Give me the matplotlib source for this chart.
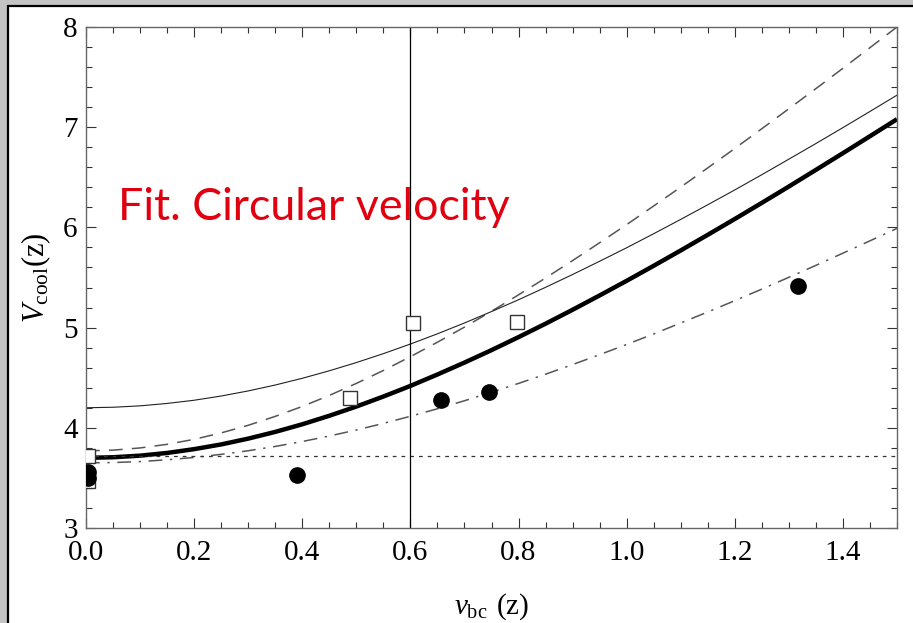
import matplotlib
matplotlib.use("Agg")
import matplotlib.pyplot as plt
from matplotlib.patches import Rectangle
from matplotlib.ticker import MultipleLocator

# ---- data ----
x_curve = [0.00, 0.05, 0.10, 0.15, 0.20, 0.25, 0.30, 0.35, 0.40, 0.45, 0.50,
           0.55, 0.60, 0.65, 0.70, 0.75, 0.80, 0.85, 0.90, 0.95, 1.00,
           1.05, 1.10, 1.15, 1.20, 1.25, 1.30, 1.35, 1.40, 1.45, 1.50]
thick_fit = [3.700, 3.706, 3.722, 3.749, 3.787, 3.834, 3.892, 3.959, 4.035, 4.120, 4.212,
             4.312, 4.418, 4.532, 4.651, 4.775, 4.905, 5.039, 5.178, 5.321, 5.467,
             5.617, 5.770, 5.926, 6.084, 6.245, 6.408, 6.574, 6.741, 6.910, 7.080]
thin_fit = [4.200, 4.205, 4.219, 4.243, 4.275, 4.317, 4.368, 4.427, 4.494, 4.569, 4.651,
            4.740, 4.836, 4.938, 5.046, 5.160, 5.278, 5.402, 5.530, 5.662, 5.797,
            5.937, 6.080, 6.226, 6.374, 6.526, 6.681, 6.837, 6.996, 7.157, 7.320]
dashed_fit = [3.770, 3.777, 3.799, 3.835, 3.885, 3.949, 4.025, 4.114, 4.213, 4.323, 4.443,
              4.572, 4.710, 4.854, 5.005, 5.163, 5.327, 5.495, 5.669, 5.847, 6.028,
              6.214, 6.402, 6.594, 6.788, 6.985, 7.184, 7.385, 7.588, 7.794, 8.000]
dashdot_fit = [3.650, 3.653, 3.663, 3.681, 3.704, 3.735, 3.771, 3.814, 3.863, 3.918, 3.978,
               4.044, 4.115, 4.190, 4.270, 4.355, 4.443, 4.535, 4.631, 4.730, 4.832,
               4.937, 5.046, 5.156, 5.269, 5.384, 5.502, 5.621, 5.743, 5.866, 5.990]
dotted_level = 3.72
vline_x = 0.6

circles_x = [0.003, 0.003, 0.39, 0.657, 0.746, 1.316]
circles_y = [3.56, 3.50, 3.53, 4.28, 4.355, 5.415]
squares_x = [0.003, 0.003, 0.489, 0.604, 0.798]
squares_y = [3.72, 3.47, 4.295, 5.043, 5.053]

x_ticks = [0.0, 0.2, 0.4, 0.6, 0.8, 1.0, 1.2, 1.4]
x_ticklabels = ["0.0", "0.2", "0.4", "0.6", "0.8", "1.0", "1.2", "1.4"]
y_ticks = [3, 4, 5, 6, 7, 8]
y_ticklabels = ["3", "4", "5", "6", "7", "8"]

# ---- figure ----
plt.rcParams['mathtext.fontset'] = 'custom'
plt.rcParams['mathtext.rm'] = 'Liberation Serif'
plt.rcParams['mathtext.it'] = 'Liberation Serif:italic'
plt.rcParams['font.family'] = ['Liberation Serif']
serif = ['Liberation Serif', 'DejaVu Serif']

W, H = 913, 623
fig = plt.figure(figsize=(W / 100, H / 100), dpi=100, facecolor='#c4c4c4')
frame = Rectangle((8 / W, -0.02), 1.0, (H - 6) / H + 0.02, transform=fig.transFigure,
                  facecolor='white', edgecolor='black', linewidth=1.6, zorder=-5)
fig.add_artist(frame)

ax = fig.add_axes([86 / W, (H - 528) / H, (897 - 86) / W, (528 - 27) / H])
ax.set_xlim(0, 1.5)
ax.set_ylim(3, 8)

ax.plot(x_curve, dashdot_fit, color='#555555', lw=1.1, dashes=[9, 5, 1.5, 5])
ax.plot(x_curve, dashed_fit, color='#555555', lw=1.1, dashes=[9, 6])
ax.plot(x_curve, thin_fit, color='#222222', lw=0.8)
ax.plot(x_curve, thick_fit, color='black', lw=3.2, solid_capstyle='butt')
ax.axhline(dotted_level, color='#333333', lw=0.9, dashes=[3, 4])
ax.axvline(vline_x, color='black', lw=0.9)

ax.plot(squares_x, squares_y, 's', ms=9.5, mfc='white', mec='#333333', mew=1.0, zorder=5)
ax.plot(circles_x, circles_y, 'o', ms=11, color='black', zorder=6)

ax.set_xticks(x_ticks)
ax.set_xticklabels(x_ticklabels, fontfamily=serif, fontsize=21)
ax.set_yticks(y_ticks)
ax.set_yticklabels(y_ticklabels, fontfamily=serif, fontsize=21)
ax.xaxis.set_minor_locator(MultipleLocator(0.05))
ax.yaxis.set_minor_locator(MultipleLocator(0.2))
ax.tick_params(which='both', direction='in', top=True, right=True, labeltop=False,
               labelright=False, color='#333333', width=0.8)
ax.tick_params(which='major', length=7)
ax.tick_params(axis='x', which='major', pad=9)
ax.tick_params(axis='y', which='major', pad=6)
ax.tick_params(which='minor', length=4.3)
for s in ax.spines.values():
    s.set_color('#666666')
    s.set_linewidth(1.0)

ax.set_xlabel(r'$v_{\rm bc}\;\,(\rm z)$', fontsize=21, labelpad=18)
ax.set_ylabel(r'$V_{\rm cool}(\rm z)$', fontsize=22, labelpad=7)

fig.text(118 / W, (H - 220) / H, 'Fit. Circular velocity', color='#e0000f',
         fontsize=32.2, family=['Lato', 'DejaVu Sans'], va='baseline', ha='left')

fig.savefig('out.png', dpi=100, facecolor=fig.get_facecolor())
